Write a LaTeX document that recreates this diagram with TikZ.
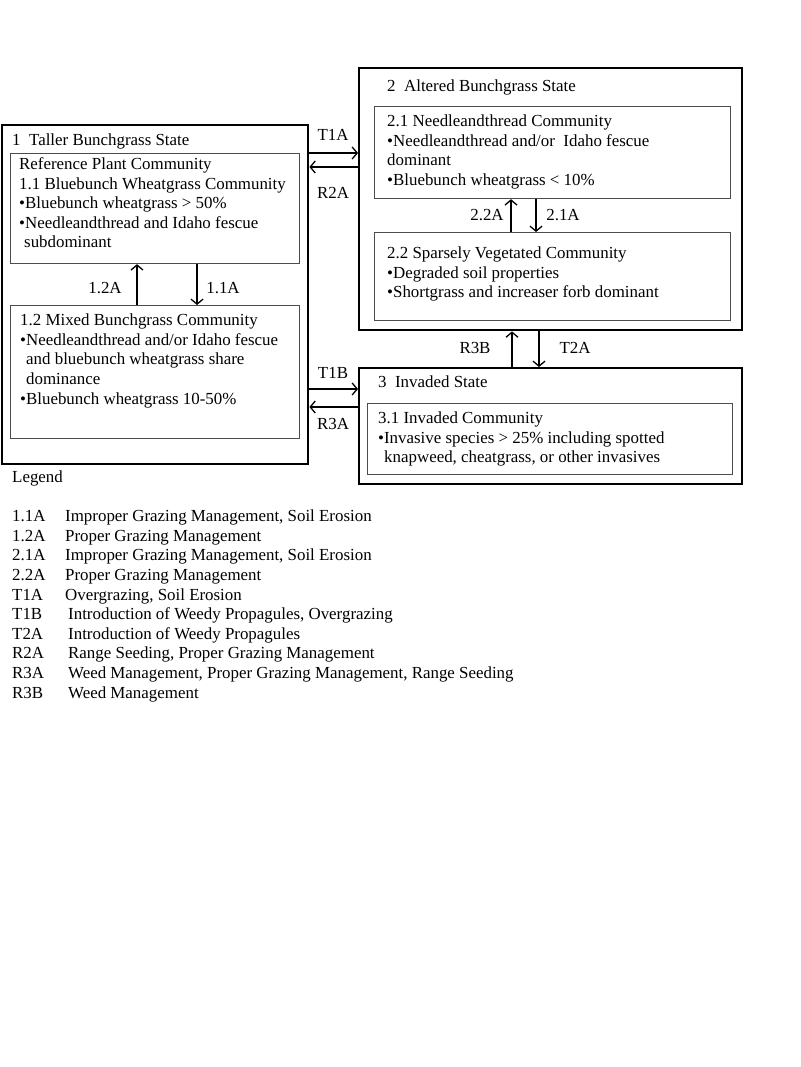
\documentclass[tikz,border=0pt]{standalone}
\usepackage{fontspec}
\setmainfont{Liberation Serif}
\usetikzlibrary{arrows.meta}
\begin{document}
\begin{tikzpicture}[x=1pt,y=-1pt,
  statebox/.style={draw=black,line width=2.4pt,inner sep=0,anchor=north west},
  commbox/.style={draw=black!70,line width=1.2pt,inner sep=0,anchor=north west},
  txt/.style={anchor=north west,inner sep=0,align=left,font=\fontsize{16.9}{19.6}\selectfont},
  trans/.style={line width=1.3pt,-{Straight Barb[length=5pt,width=12pt,line width=1.3pt]}},
  lbl/.style={inner sep=0,font=\fontsize{16.9}{19.6}\selectfont}]
\useasboundingbox (0,0) rectangle (800,1067);
% state boxes
\node[statebox,minimum width=306pt,minimum height=339pt] (s1) at (1,124) {};
\node[statebox,minimum width=383pt,minimum height=262pt] (s2) at (358,67) {};
\node[statebox,minimum width=383pt,minimum height=116pt] (s3) at (358,367) {};
% community boxes
\node[commbox,minimum width=289pt,minimum height=110pt] (c11) at (10,153) {};
\node[commbox,minimum width=289pt,minimum height=133pt] (c12) at (10,305) {};
\node[commbox,minimum width=356pt,minimum height=92pt] (c21) at (374,106) {};
\node[commbox,minimum width=356pt,minimum height=88pt] (c22) at (374,232) {};
\node[commbox,minimum width=365pt,minimum height=71pt] (c31) at (367,403) {};
% texts
\node[txt] (t1) at (12,133.5) {\vphantom{fl}1\ \ Taller Bunchgrass State};
\node[txt] (t11) at (19,157.5) {\vphantom{fl}Reference Plant Community\\1.1 Bluebunch Wheatgrass Community\\\textbullet Bluebunch wheatgrass > 50\%\\\textbullet Needleandthread and Idaho fescue\\\hspace*{5pt}subdominant};
\node[txt] (t12) at (20,313.5) {\vphantom{fl}1.2 Mixed Bunchgrass Community\\\textbullet Needleandthread and/or Idaho fescue\\\hspace*{6pt}and bluebunch wheatgrass share\\\hspace*{6pt}dominance\\\textbullet Bluebunch wheatgrass 10-50\%};
\node[txt] (t2) at (387,79.5) {\vphantom{fl}2\ \ Altered Bunchgrass State};
\node[txt] (t21) at (387,114.5) {\vphantom{fl}2.1 Needleandthread Community\\\textbullet Needleandthread and/or\ \ Idaho fescue\\dominant\\\textbullet Bluebunch wheatgrass < 10\%};
\node[txt] (t22) at (387,246.5) {\vphantom{fl}2.2 Sparsely Vegetated Community\\\textbullet Degraded soil properties\\\textbullet Shortgrass and increaser forb dominant};
\node[txt] (t3) at (378,375.5) {\vphantom{fl}3\ \ Invaded State};
\node[txt] (t31) at (378,411.5) {\vphantom{fl}3.1 Invaded Community\\\textbullet Invasive species > 25\% including spotted\\\hspace*{6pt}knapweed, cheatgrass, or other invasives};
% transitions within state 1
\coordinate (x12) at (137,0);
\coordinate (x11) at (197,0);
\draw[trans] (x12 |- c12.north) -- (x12 |- c11.south);
\draw[trans] (x11 |- c11.south) -- (x11 |- c12.north);
\node[lbl] (l12) at (105,288) {1.2A};
\node[lbl] (l11) at (223,288) {1.1A};
% transitions within state 2
\coordinate (x22) at (511,0);
\coordinate (x21) at (536,0);
\draw[trans] (x22 |- c22.north) -- (x22 |- c21.south);
\draw[trans] (x21 |- c21.south) -- (x21 |- c22.north);
\node[lbl] (l22) at (487,215) {2.2A};
\node[lbl] (l21) at (563,215) {2.1A};
% between states 2 and 3
\coordinate (xr3b) at (512,0);
\coordinate (xt2a) at (539,0);
\draw[trans] (xr3b |- s3.north) -- (xr3b |- s2.south);
\draw[trans] (xt2a |- s2.south) -- (xt2a |- s3.north);
\node[lbl] (lr3b) at (475,348) {R3B};
\node[lbl] (lt2a) at (575,348) {T2A};
% between states 1 and 2
\coordinate (yt1a) at (0,153);
\coordinate (yr2a) at (0,167);
\draw[trans] (s1.east |- yt1a) -- (s2.west |- yt1a);
\draw[trans] (s2.west |- yr2a) -- (s1.east |- yr2a);
\node[lbl] (lt1a) at (333,135) {T1A};
\node[lbl] (lr2a) at (333,193) {R2A};
% between states 1 and 3
\coordinate (yt1b) at (0,389);
\coordinate (yr3a) at (0,407);
\draw[trans] (s1.east |- yt1b) -- (s3.west |- yt1b);
\draw[trans] (s3.west |- yr3a) -- (s1.east |- yr3a);
\node[lbl] (lt1b) at (333,373) {T1B};
\node[lbl] (lr3a) at (333,424) {R3A};
% legend
\node[txt] (leg) at (12,470.5) {\vphantom{fl}Legend};
\node[txt] (codes) at (12,509.5) {\vphantom{fl}1.1A\\1.2A\\2.1A\\2.2A\\T1A\\T1B\\T2A\\R2A\\R3A\\R3B};
\node[txt] (desc1) at (65,509.5) {\vphantom{fl}Improper Grazing Management, Soil Erosion\\Proper Grazing Management\\Improper Grazing Management, Soil Erosion\\Proper Grazing Management\\Overgrazing, Soil Erosion};
\node[txt] (desc2) at (68,607.5) {\vphantom{fl}Introduction of Weedy Propagules, Overgrazing\\Introduction of Weedy Propagules\\Range Seeding, Proper Grazing Management\\Weed Management, Proper Grazing Management, Range Seeding\\Weed Management};
\end{tikzpicture}
\end{document}
